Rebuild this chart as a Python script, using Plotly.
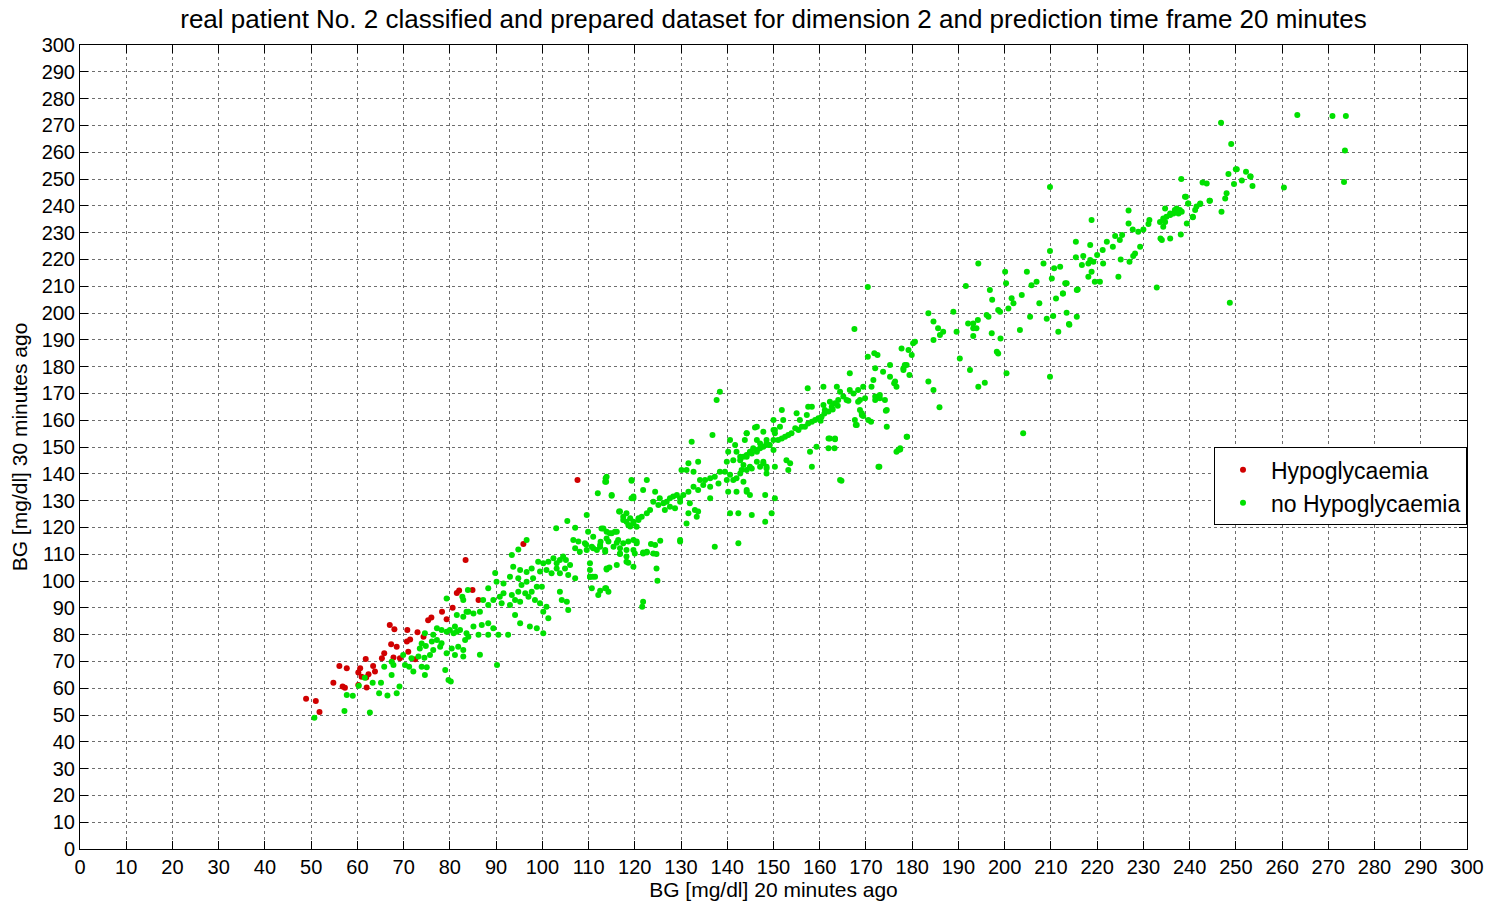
import plotly.graph_objects as go

# BG readings (mg/dl): x = 20 minutes ago, y = 30 minutes ago
hypo_points = [
    (48.9, 56.1), (51.0, 55.2), (51.8, 51.1), (54.8, 62.0), (56.1, 68.3), (57.7, 67.4),
    (56.8, 60.6), (57.3, 60.2), (60.2, 61.2), (62.0, 60.3), (60.6, 67.4), (60.2, 65.9),
    (60.9, 64.3), (61.9, 64.0), (62.4, 65.2), (61.8, 70.9), (63.4, 68.3), (63.8, 66.2),
    (65.8, 73.0), (65.3, 71.2), (69.2, 71.2), (67.8, 71.5), (72.5, 70.8), (71.0, 73.6),
    (67.3, 76.4), (68.5, 75.5), (70.7, 77.4), (67.0, 83.6), (68.0, 82.0), (70.8, 81.7),
    (73.0, 80.9), (71.4, 78.2), (74.3, 79.2), (75.3, 85.4), (76.0, 86.4), (79.3, 85.7),
    (78.3, 88.5), (80.6, 90.0), (81.5, 95.5), (82.0, 96.5), (83.4, 107.8), (84.9, 96.6),
    (86.2, 92.9), (95.9, 113.8), (107.6, 137.7),
]

no_hypo_low = [
    (50.7, 49.0), (57.2, 51.5), (62.7, 50.9), (57.7, 57.5), (59.0, 57.2), (60.3, 60.9),
    (63.3, 62.0), (65.1, 62.0), (64.7, 58.1), (66.5, 57.3), (68.5, 58.1), (69.1, 60.6),
    (61.6, 63.9), (65.8, 68.0), (67.4, 64.9), (67.4, 69.9), (67.8, 68.7), (69.9, 72.4),
    (70.3, 68.7), (71.2, 68.0), (71.7, 71.2), (72.1, 66.2), (73.9, 68.0), (74.6, 64.9),
    (75.0, 67.8), (73.2, 71.8), (74.5, 71.4), (75.7, 72.4), (74.8, 75.7), (76.1, 77.4),
    (77.2, 78.0), (78.2, 76.8), (74.6, 80.5), (76.4, 79.9), (77.2, 82.4), (78.2, 81.7),
    (79.3, 81.1), (80.0, 81.7), (80.8, 80.5), (81.1, 83.0), (81.5, 81.1), (82.2, 81.7),
    (79.3, 93.5), (82.7, 94.1), (83.9, 96.6), (81.5, 87.3), (82.9, 86.7), (84.0, 88.5),
    (79.0, 66.8), (79.7, 63.1), (81.1, 72.4), (82.9, 71.8), (76.4, 74.3), (77.9, 75.5),
    (79.3, 73.0), (80.4, 74.8), (81.8, 75.5), (82.9, 74.3), (83.3, 78.0), (84.0, 79.2),
    (73.5, 74.8), (73.9, 76.7), (90.2, 68.7), (86.5, 72.5), (80.2, 62.5),
]

no_hypo_mid = [
    (113.7, 138.3), (113.8, 137.0), (119.3, 137.4), (119.7, 130.9), (112.0, 132.7), (115.0, 131.8),
    (109.6, 124.6), (105.4, 122.4), (116.6, 125.9), (118.2, 125.3), (119.0, 123.4), (117.5, 122.8),
    (119.7, 122.1), (120.4, 120.2), (118.6, 120.9), (120.8, 123.4), (103.0, 119.7), (107.1, 119.9),
    (106.7, 115.3), (107.8, 114.7), (107.1, 112.2), (108.1, 110.9), (109.2, 114.1), (109.9, 118.4),
    (111.0, 116.5), (110.7, 112.8), (109.6, 111.6), (111.8, 111.6), (112.5, 112.8), (112.8, 119.6),
    (113.9, 118.4), (115.0, 117.8), (116.1, 118.4), (114.3, 114.7), (115.4, 112.8), (116.4, 115.3),
    (117.5, 114.1), (118.6, 114.7), (119.7, 115.3), (120.4, 114.7), (113.6, 110.9), (116.8, 112.2),
    (118.2, 109.1), (120.0, 110.3), (113.9, 104.7), (116.1, 106.0), (118.2, 107.2), (119.7, 105.3),
    (110.3, 101.6), (111.4, 101.6), (110.7, 97.3), (113.6, 97.3), (96.6, 115.3), (94.8, 111.8),
    (93.4, 109.7), (93.7, 105.3), (95.2, 104.1), (96.6, 103.4), (97.7, 104.7), (99.1, 107.2),
    (100.2, 106.6), (101.3, 107.2), (102.4, 108.5), (103.1, 106.6), (103.8, 107.8), (104.5, 109.1),
    (105.1, 107.8), (106.0, 106.0), (99.5, 103.5), (100.9, 104.1), (102.0, 102.9), (103.1, 104.7),
    (103.8, 102.9), (104.9, 104.7), (105.6, 102.2), (107.1, 101.0), (89.8, 103.0), (90.1, 99.7),
    (88.3, 97.3), (91.6, 99.1), (93.0, 101.6), (94.8, 101.0), (95.5, 98.5), (96.6, 99.7),
    (98.0, 101.0), (98.8, 97.9), (99.9, 97.9), (97.7, 96.0), (96.3, 95.4), (94.8, 96.0),
    (93.4, 94.8), (91.6, 95.4), (90.8, 94.1), (89.4, 92.9), (87.2, 92.9), (88.3, 91.0),
    (86.5, 88.5), (85.1, 87.9), (83.6, 88.5), (82.9, 92.9), (91.2, 91.7), (93.0, 91.0),
    (94.1, 92.9), (95.2, 92.3), (97.0, 94.1), (98.4, 92.9), (99.5, 91.7), (100.9, 90.4),
    (101.3, 86.1), (100.2, 88.5), (103.8, 96.0), (104.2, 92.9), (105.3, 92.3), (105.6, 89.2),
    (85.1, 83.0), (86.9, 83.6), (88.3, 84.2), (89.4, 82.4), (83.6, 80.5), (86.2, 79.9),
    (88.3, 79.9), (90.5, 79.9), (92.6, 79.9), (94.1, 87.3), (95.2, 84.2), (97.3, 83.0),
    (98.8, 82.4), (100.2, 80.5), (112.1, 94.8), (116.1, 114.3), (118.2, 111.6), (116.8, 110.1),
    (120.4, 114.1), (123.5, 113.8), (125.5, 115.0), (129.8, 114.7), (121.8, 110.6), (122.6, 110.6),
    (124.7, 110.1), (110.3, 106.6), (110.3, 104.1), (118.6, 106.8), (113.9, 104.3), (114.5, 105.0),
    (124.7, 104.7), (110.3, 101.6), (110.9, 101.6), (124.9, 100.1), (112.5, 96.4), (113.8, 97.3),
    (114.3, 96.0), (121.8, 92.3), (121.6, 90.4), (109.5, 113.5), (111.0, 112.2), (112.6, 114.6),
]

no_hypo_upper = [
    (138.4, 170.6), (137.7, 167.5), (132.3, 152.0), (136.8, 154.5), (144.2, 155.1), (146.0, 157.3),
    (147.8, 155.7), (150.0, 160.1), (150.3, 156.3), (148.5, 152.6), (146.4, 152.6), (147.1, 151.3),
    (148.9, 150.7), (150.0, 148.9), (140.6, 152.6), (141.7, 150.7), (140.2, 148.2), (142.0, 148.2),
    (142.8, 146.4), (141.3, 145.1), (144.2, 146.4), (145.3, 147.6), (146.4, 148.9), (139.9, 144.5),
    (143.5, 143.3), (145.3, 142.0), (146.4, 144.5), (147.8, 144.5), (148.5, 142.6), (150.3, 142.6),
    (131.6, 143.9), (130.1, 141.4), (131.2, 141.4), (132.7, 140.8), (133.7, 144.5), (134.1, 137.7),
    (135.2, 137.7), (136.3, 138.3), (137.3, 138.9), (138.4, 140.8), (139.5, 140.8), (140.6, 139.6),
    (139.9, 137.7), (138.1, 136.4), (136.3, 135.2), (134.8, 135.8), (133.7, 134.0), (132.7, 135.2),
    (131.6, 133.3), (130.5, 132.1), (129.8, 130.9), (141.3, 137.7), (142.0, 138.3), (142.8, 140.1),
    (144.2, 141.4), (140.2, 133.3), (142.0, 133.3), (144.2, 133.3), (144.9, 132.1), (140.6, 125.3),
    (142.4, 125.3), (145.3, 124.6), (148.2, 122.1), (149.6, 125.3), (150.3, 130.9), (148.5, 140.1),
    (143.5, 137.0), (124.4, 133.3), (125.4, 130.9), (126.2, 129.0), (126.9, 129.6), (127.6, 130.9),
    (128.3, 131.5), (129.1, 132.1), (129.8, 129.6), (128.7, 127.1), (127.6, 127.7), (126.5, 126.5),
    (125.1, 128.4), (124.0, 129.6), (123.3, 126.5), (122.6, 125.3), (121.5, 124.0), (120.8, 122.8),
    (119.7, 121.5), (119.0, 120.3), (118.2, 122.1), (117.5, 124.0), (116.8, 125.9), (119.3, 130.9),
    (119.7, 131.5), (121.8, 134.0), (122.6, 137.7), (119.3, 137.7), (115.0, 132.1), (113.9, 138.9),
    (113.6, 137.0), (129.8, 115.3), (137.3, 112.8), (142.4, 114.1), (131.2, 121.5), (133.4, 124.0),
    (133.7, 125.9), (136.3, 130.9), (124.4, 113.4), (124.0, 110.3), (122.6, 110.9), (121.8, 110.3),
    (119.7, 111.6), (116.8, 110.3), (113.6, 111.6), (112.5, 113.4), (113.9, 115.9), (115.7, 118.4),
    (114.6, 117.8), (113.2, 119.6), (131.9, 129.0), (131.6, 125.3), (133.0, 126.5),
    (167.5, 194.0), (170.4, 183.7), (171.8, 185.0), (172.5, 184.3), (177.7, 186.8), (179.2, 186.2),
    (180.2, 188.7), (179.9, 184.3), (178.4, 180.6), (178.1, 178.7), (175.2, 180.6), (173.7, 178.1),
    (172.0, 179.4), (175.2, 176.2), (176.3, 174.4), (176.6, 172.5), (171.6, 175.0), (171.2, 172.5),
    (172.0, 168.8), (173.0, 168.2), (174.5, 163.8), (169.4, 172.5), (168.3, 171.3), (167.3, 170.0),
    (166.5, 171.3), (166.5, 177.5), (169.8, 168.2), (168.7, 167.5), (169.1, 162.6), (167.6, 160.1),
    (170.5, 160.1), (174.5, 157.6), (178.8, 153.8), (177.0, 148.9), (176.6, 148.2), (172.7, 142.6),
    (168.0, 158.2), (164.4, 170.6), (164.0, 167.5), (163.3, 166.3), (162.6, 165.0), (161.9, 163.2),
    (161.1, 163.8), (160.4, 161.3), (159.7, 160.7), (159.0, 160.1), (158.3, 159.4), (157.5, 158.8),
    (156.8, 157.6), (156.1, 157.6), (155.4, 156.3), (154.7, 157.0), (153.9, 155.1), (153.2, 154.5),
    (152.5, 153.8), (151.8, 153.2), (151.0, 152.6), (150.3, 155.1), (150.0, 152.6), (149.2, 150.7),
    (148.5, 151.4), (147.8, 150.1), (147.1, 149.5), (146.4, 148.2), (145.6, 149.5), (144.9, 148.2),
    (144.2, 147.0), (143.5, 146.4), (142.8, 145.1), (165.1, 168.8), (165.8, 167.5), (162.2, 166.9),
    (160.8, 165.7), (157.2, 161.9), (155.0, 162.6), (155.7, 160.1), (152.1, 160.1), (151.4, 157.6),
    (150.0, 156.3), (146.4, 157.6), (144.2, 155.1), (143.8, 152.6), (158.3, 165.0), (157.5, 165.0),
    (160.8, 172.5), (163.7, 172.5), (151.8, 163.8), (164.4, 137.7), (158.3, 142.6), (159.3, 150.1),
    (157.9, 148.2), (163.3, 153.2), (162.2, 153.2), (161.9, 149.5), (152.8, 145.1), (153.6, 143.9),
    (153.2, 141.4), (148.5, 142.0), (147.8, 143.9), (147.1, 142.6), (144.9, 142.6), (143.1, 141.4),
    (144.2, 134.0), (148.2, 132.1), (157.4, 171.9), (164.7, 137.4), (172.9, 142.6), (177.4, 149.1),
    (178.9, 153.8), (171.1, 159.4), (167.8, 158.2), (174.3, 163.5), (161.9, 153.2), (163.3, 152.9),
    (163.2, 149.5), (168.7, 163.8), (169.1, 161.9), (169.4, 161.6), (168.3, 166.9), (172.0, 167.5),
    (174.1, 167.5), (166.2, 167.3), (161.0, 162.5), (162.8, 164.0), (163.9, 165.4), (160.2, 159.8),
]

no_hypo_high = [
    (194.3, 218.5), (200.1, 215.4), (200.3, 211.1), (204.8, 215.4), (208.4, 218.5), (209.8, 223.1),
    (210.7, 216.7), (212.0, 217.3), (210.2, 212.9), (213.1, 211.1), (215.6, 208.6), (206.9, 211.7),
    (205.8, 210.4), (203.7, 206.7), (201.5, 205.5), (201.9, 203.6), (200.8, 201.7), (198.6, 201.1),
    (199.0, 200.5), (196.8, 208.6), (197.3, 204.9), (196.5, 198.6), (196.1, 199.3), (194.2, 197.4),
    (193.2, 196.1), (192.1, 196.1), (191.6, 210.1), (188.9, 200.5), (183.5, 199.9), (184.6, 196.8),
    (185.6, 194.3), (186.7, 193.0), (186.0, 191.8), (184.6, 189.9), (189.6, 193.0), (190.3, 183.0),
    (193.2, 194.3), (193.2, 191.4), (193.9, 194.3), (197.2, 192.4), (199.1, 190.5), (198.3, 185.5),
    (198.6, 184.9), (192.5, 178.7), (194.3, 172.5), (195.7, 174.0), (200.4, 177.5), (204.0, 155.1),
    (209.8, 176.2), (203.3, 193.7), (205.5, 198.6), (207.5, 203.6), (209.1, 197.9), (211.1, 205.4),
    (212.6, 207.3), (210.5, 198.9), (211.6, 193.0), (213.9, 195.9), (213.4, 200.1), (215.6, 198.6),
    (183.5, 174.4), (184.6, 171.3), (185.9, 164.8), (180.6, 189.3), (178.1, 179.4), (178.8, 180.6),
    (179.4, 176.9), (176.1, 173.8), (173.0, 169.4), (177.4, 149.5), (170.4, 209.7),
    (218.8, 234.7), (226.8, 238.2), (238.2, 250.0), (242.8, 248.7), (243.7, 248.3), (248.4, 251.9),
    (250.0, 253.6), (252.2, 252.7), (253.2, 250.9), (251.3, 249.4), (249.6, 248.1), (253.6, 247.4),
    (248.0, 244.7), (247.7, 242.7), (246.9, 237.8), (244.3, 241.9), (242.3, 240.9), (241.5, 239.7),
    (241.2, 238.4), (240.7, 235.7), (239.7, 240.9), (239.2, 243.4), (237.9, 238.4), (237.2, 239.0),
    (236.5, 237.1), (235.8, 237.1), (235.0, 235.9), (234.7, 234.0), (233.6, 234.0), (234.3, 232.2),
    (233.7, 227.8), (234.0, 227.2), (235.8, 227.8), (238.1, 229.3), (239.4, 233.4), (231.3, 234.7),
    (231.1, 233.2), (230.0, 231.2), (228.9, 230.3), (227.7, 231.2), (226.8, 233.4), (225.4, 229.1),
    (224.9, 227.2), (223.9, 228.7), (223.4, 224.7), (222.1, 226.6), (221.2, 223.5), (220.0, 221.6),
    (219.2, 219.1), (218.5, 219.8), (218.1, 218.5), (217.0, 221.3), (216.7, 217.9), (215.4, 226.6),
    (215.4, 220.8), (218.5, 225.4), (218.8, 215.4), (218.1, 213.5), (219.5, 211.7), (220.6, 211.7),
    (221.3, 218.5), (225.1, 220.0), (227.0, 219.1), (227.8, 221.3), (228.2, 222.2), (229.3, 224.7),
    (224.6, 213.5), (215.8, 208.8), (213.4, 211.1), (212.6, 207.3), (214.0, 195.6), (232.9, 209.5),
    (248.7, 203.8), (209.8, 247.0), (246.8, 271.0), (249.0, 263.1), (250.2, 253.6), (253.1, 250.9),
    (260.4, 246.8), (263.3, 273.9), (270.9, 273.5), (273.8, 273.5), (273.6, 260.6), (273.4, 248.9),
    (239.0, 243.4), (239.7, 240.9), (242.3, 240.7), (244.4, 241.9), (240.7, 235.9), (234.7, 239.0),
    (236.8, 238.4), (238.3, 237.8), (237.6, 237.1), (235.8, 236.6), (234.3, 235.3),
]

axis_ticks = list(range(0, 301, 10))

hx, hy = zip(*hypo_points)
no_hypo_points = no_hypo_low + no_hypo_mid + no_hypo_upper + no_hypo_high
nx, ny = zip(*no_hypo_points)

FONT = "Liberation Sans, Arial, sans-serif"

fig = go.Figure()
fig.add_trace(go.Scatter(
    x=hx, y=hy, mode="markers", name="Hypoglycaemia",
    marker=dict(color="#d00000", size=6, symbol="circle"),
))
fig.add_trace(go.Scatter(
    x=nx, y=ny, mode="markers", name="no Hypoglycaemia",
    marker=dict(color="#00e000", size=6, symbol="circle"),
))

axis_common = dict(
    range=[0, 300], tickmode="array", tickvals=axis_ticks,
    ticktext=[str(t) for t in axis_ticks],
    showgrid=True, gridcolor="#6e6e6e", griddash="dot", gridwidth=1,
    showline=True, linecolor="black", linewidth=1, mirror="allticks",
    ticks="inside", ticklen=8, tickcolor="black",
    tickfont=dict(family=FONT, size=20, color="black"),
    zeroline=False, fixedrange=True, automargin=False,
)

fig.update_layout(
    width=1490, height=905, autosize=False,
    margin=dict(l=80, r=23, t=45, b=56, autoexpand=False),
    paper_bgcolor="white", plot_bgcolor="white",
    title=dict(
        text="real patient No. 2 classified and prepared dataset for dimension 2 and prediction time frame 20 minutes",
        x=0.5, xref="paper", xanchor="center", y=0.979, yanchor="middle",
        font=dict(family=FONT, size=26, color="black"),
    ),
    xaxis=dict(axis_common, title=dict(text="BG [mg/dl] 20 minutes ago",
                                         font=dict(family=FONT, size=21, color="black"),
                                         standoff=0)),
    yaxis=dict(axis_common, title=dict(text="BG [mg/dl] 30 minutes ago",
                                         font=dict(family=FONT, size=21, color="black"),
                                         standoff=8)),
    legend=dict(
        x=1.0, xanchor="right", y=0.451, yanchor="middle",
        bgcolor="white", bordercolor="black", borderwidth=1,
        font=dict(family=FONT, size=23, color="black"),
        itemsizing="trace", itemwidth=46, tracegroupgap=0,
    ),
    showlegend=True,
)

fig.write_html("out.html")
